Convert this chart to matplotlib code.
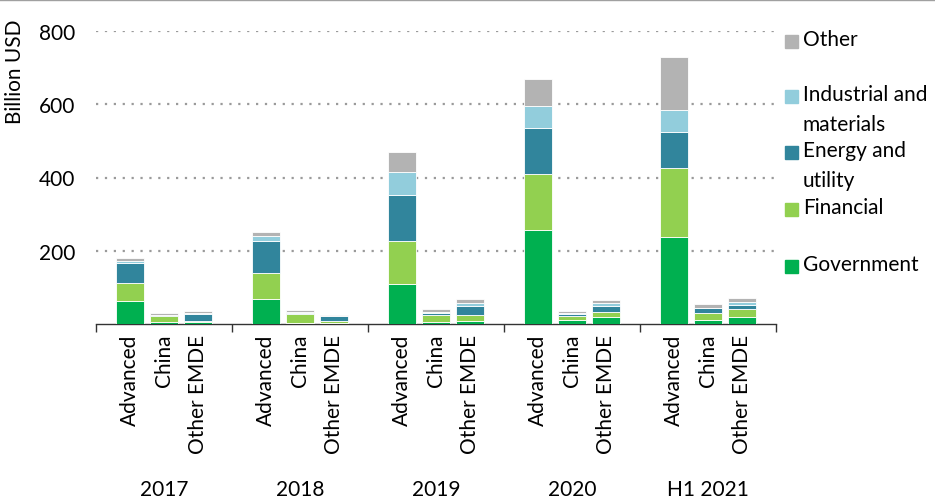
import numpy as np
import matplotlib.pyplot as plt
from matplotlib.patches import Rectangle
from matplotlib.lines import Line2D

plt.rcParams['font.family'] = ['Lato', 'DejaVu Sans']

years = ["2017", "2018", "2019", "2020", "H1 2021"]
regions = ["Advanced", "China", "Other EMDE"]
sectors = ["Government", "Financial", "Energy and\nutility", "Industrial and\nmaterials", "Other"]
colors = ["#00B050", "#92D050", "#31859C", "#92CDDC", "#B3B3B3"]

# one value per bar: 2017 Adv/China/Other, 2018 ..., H1 2021
government = [62, 6, 5, 68, 3, 4, 109, 6, 9, 257, 12, 19, 237, 12, 19]
financial = [50, 16, 4, 71, 24, 4, 118, 19, 16, 153, 11, 14, 189, 18, 22]
energy = [55, 2, 18, 88, 3, 13, 125, 4, 25, 125, 4, 17, 98, 13, 12]
industrial = [6, 1, 2, 12, 2, 1, 64, 3, 6, 60, 4, 7, 60, 2, 8]
other = [7, 4, 6, 12, 6, 3, 54, 9, 12, 73, 4, 9, 145, 10, 10]

series = [government, financial, energy, industrial, other]

FS = 15
W, H = 935, 502
fig = plt.figure(figsize=(9.35, 5.02), dpi=100)
ax = fig.add_axes([96 / W, 1 - 325 / H, 680 / W, 293 / H])

x = np.array([g * 4 + i + 1 for g in range(len(years)) for i in range(len(regions))])
bottom = np.zeros(len(x))
for vals, col, name in zip(series, colors, sectors):
    ax.bar(x, vals, width=0.83, bottom=bottom, color=col, edgecolor="white",
           linewidth=0.6, label=name, zorder=3)
    bottom += np.array(vals)

ax.set_xlim(0, 20)
ax.set_ylim(0, 800)
ax.set_yticks([200, 400, 600, 800])
ax.set_yticklabels(["200", "400", "600", "800"], fontsize=FS)
ax.tick_params(axis="y", length=0, pad=15)
for yv in [200, 400, 600, 800]:
    ax.axhline(yv, color="#9a9a9a", linestyle=(0, (1, 3)), linewidth=1.6, zorder=1)

ax.set_xticks(x)
ax.set_xticklabels(regions * len(years), rotation=90, fontsize=FS)
ax.tick_params(axis="x", which="major", length=0, pad=7)
ax.set_xticks(np.arange(0, 21, 4), minor=True)
ax.tick_params(axis="x", which="minor", length=6, width=1, color="#333333", direction="out")

for s in ["top", "right", "left"]:
    ax.spines[s].set_visible(False)
ax.spines["bottom"].set_color("#333333")
ax.spines["bottom"].set_linewidth(1)

for g, yr in enumerate(years):
    ax.text(g * 4 + 2, -0.563, yr, transform=ax.get_xaxis_transform(),
            ha="center", va="center", fontsize=FS)

fig.text(15 / W, 1 - 72 / H, "Billion USD", rotation=90, ha="center", va="center", fontsize=FS)

# legend drawn by hand (patch next to first line of text)
leg_y = [267, 210, 153, 97, 42]
for name, col, yc in zip(sectors, colors, leg_y):
    fig.patches.append(Rectangle((785 / W, 1 - (yc + 6.5) / H), 13 / W, 13 / H,
                                 transform=fig.transFigure, color=col))
    fig.text(803 / W, 1 - (yc - 12) / H, name, ha="left", va="top", fontsize=FS,
             linespacing=1.6)

fig.add_artist(Line2D([0, 1], [1 - 1 / H, 1 - 1 / H], transform=fig.transFigure,
                      color="#a0a0a0", linewidth=1))

fig.savefig("out.png", dpi=100)
